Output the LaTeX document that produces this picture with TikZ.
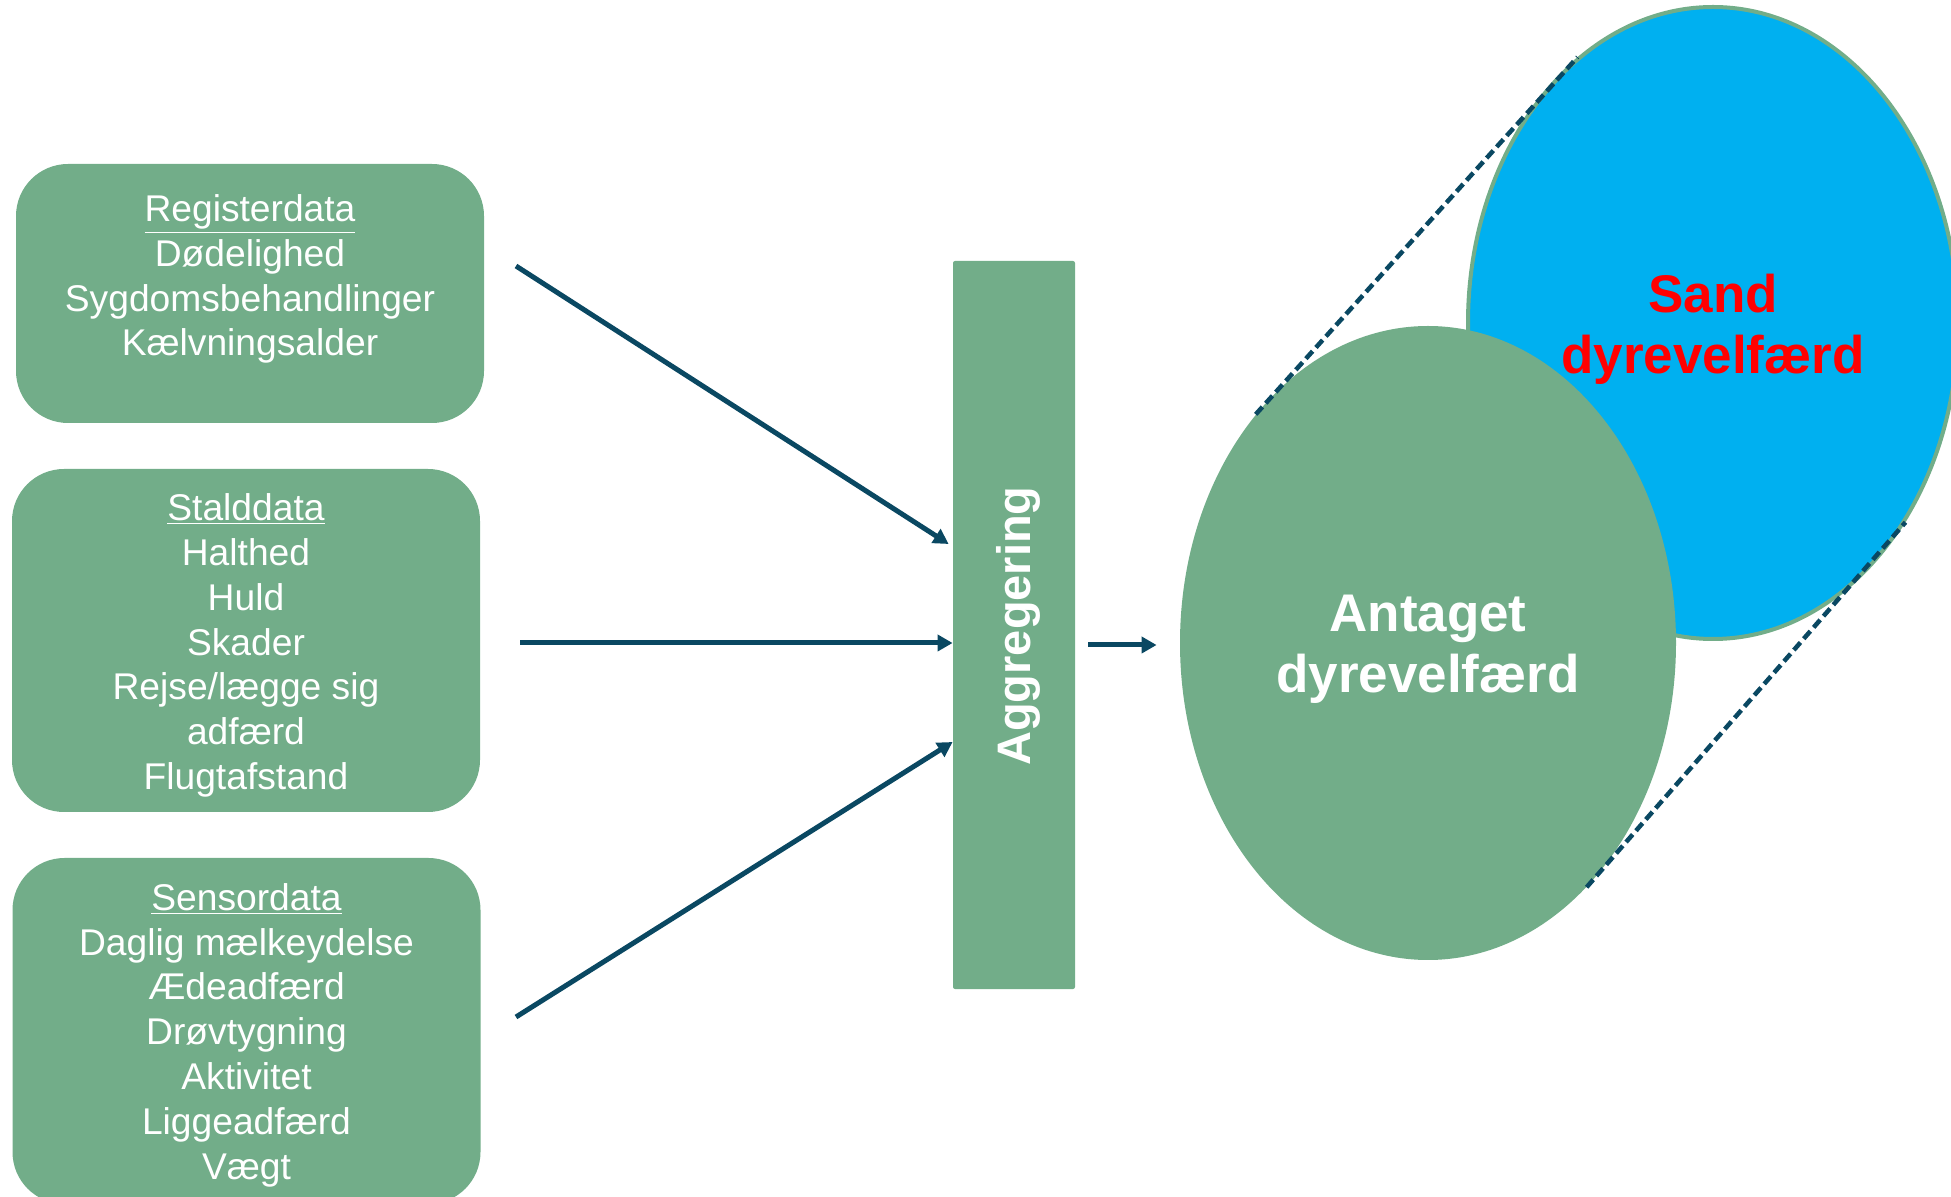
\documentclass[tikz,border=0pt]{standalone}
\usepackage{fontspec}
\setmainfont{Liberation Sans}
\usetikzlibrary{positioning,shapes,arrows.meta,calc}
\definecolor{boxgreen}{RGB}{114,173,137}
\definecolor{skyblue}{RGB}{0,176,240}
\definecolor{arrowteal}{RGB}{10,72,98}
\tikzset{
    >={Triangle[length=7.5pt,width=8pt]}, % small filled heads
    databox/.style={fill=boxgreen, rounded corners=26pt, minimum width=234pt, inner sep=0pt},
    boxtext/.style={text=white, align=center, inner sep=0pt,
        font=\fontsize{18.6pt}{22.4pt}\selectfont},
    aggbox/.style={fill=boxgreen, rounded corners=1pt, minimum width=61pt, minimum height=364pt},
    welfare/.style={ellipse, inner sep=0pt},
    welfaretext/.style={align=center, inner sep=0pt,
        font=\fontsize{26.5pt}{30.5pt}\selectfont\bfseries},
    flow/.style={->, draw=arrowteal, line width=2.5pt},
    link/.style={draw=arrowteal, line width=2.25pt, dash pattern=on 5pt off 2.5pt},
}
\begin{document}
\begin{tikzpicture}[x=0.5pt, y=-0.5pt]
\useasboundingbox (0,0) rectangle (1951,1197);

% data sources
\node[databox, minimum height=129.5pt] (reg) at (250,293.5) {};
\node[boxtext] (regtext) at ($(reg)+(0,-14.5)$)
    {\underline{Registerdata}\\Dødelighed\\Sygdomsbehandlinger\\Kælvningsalder};
\node[databox, minimum height=171.5pt] (stald) at (246,640.5) {};
\node[boxtext] (staldtext) at ($(stald)+(0,5)$)
    {\underline{Stalddata}\\Halthed\\Huld\\Skader\\Rejse/lægge sig\\adfærd\\Flugtafstand};
\node[databox, minimum height=173pt] (sensor) at (246.5,1031) {};
\node[boxtext] (sensortext) at ($(sensor)+(0,4)$)
    {\underline{Sensordata}\\Daglig mælkeydelse\\Ædeadfærd\\Drøvtygning\\Aktivitet\\Liggeadfærd\\Vægt};

\node[aggbox] (agg) at (1014,625) {};
\node[rotate=90, text=white, font=\fontsize{23.5pt}{28pt}\selectfont\bfseries] (aggtext) at (1018,626) {Aggregering};

% welfare ellipses
\node[welfare, fill=skyblue, draw=boxgreen, line width=2pt,
    minimum width=245pt, minimum height=316pt] (sand) at (1713,323) {};
\node[welfaretext, text=red] (sandtext) at ($(sand)+(0,6)$) {Sand\\dyrevelfærd};
\node[welfare, fill=boxgreen, minimum width=248pt, minimum height=317pt] (ant) at (1428,643) {};
\node[welfaretext, text=white] (anttext) at ($(ant)+(0,6)$) {Antaget\\dyrevelfærd};

\coordinate (regout) at (516,266);
\coordinate (staldout) at (520,643);
\coordinate (sensorout) at (516,1017);
\draw[flow] (regout) -- ($(agg.west)+(-4,-81)$);
\draw[flow] (staldout) -- ($(agg.west)+(0,18)$);
\draw[flow] (sensorout) -- ($(agg.west)+(0,117)$);
\draw[flow] ($(agg.east)+(13,20)$) -- ($(ant.west)+(-23,2)$);

\draw[link] (ant.127.6) -- (sand.117.9);
\draw[link] (ant.-57.1) -- (sand.-46.6);
\end{tikzpicture}
\end{document}
